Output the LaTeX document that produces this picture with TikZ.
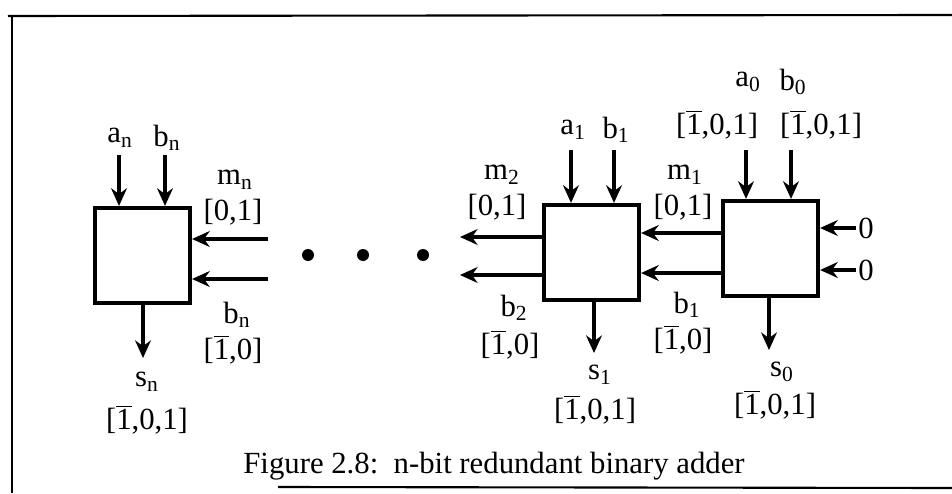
\documentclass[tikz,border=0pt]{standalone}
\usepackage{fontspec}
\setmainfont{Liberation Serif}
\usetikzlibrary{arrows.meta}
\newcommand{\onebar}{$\overline{\mbox{1}}$}
\tikzset{
  adder/.style={draw,line width=2.4pt,minimum width=1.9cm,minimum height=1.9cm,inner sep=0pt},
  sig/.style={line width=1.8pt,-{Stealth[length=10pt,width=9pt]}},
  lbl/.style={inner sep=1pt,font=\fontsize{17.5}{20}\selectfont},
  frame/.style={line width=1.2pt}
}
\begin{document}
\begin{tikzpicture}[x=0.02cm,y=-0.02cm]
  \useasboundingbox (0,0) rectangle (952,493);

  \draw[frame] (8,16) -- (952,15);
  \draw[frame] (12,16) -- (12,493);
  \draw[frame] (278,487) -- (952,488);

  \node[adder] (boxn) at (142.5,255.5) {};
  \node[adder] (box1) at (591.5,252.5) {};
  \node[adder] (box0) at (770.5,248.5) {};

  \node[lbl] (an) at (120,138) {a\textsubscript{n}};
  \node[lbl] (bn) at (167,138) {b\textsubscript{n}};
  \node[lbl] (mn) at (235,180) {m\textsubscript{n}};
  \node[lbl] (mnr) at (233,212) {[0,1]};
  \node[lbl] (cn) at (237,315) {b\textsubscript{n}};
  \node[lbl] (cnr) at (233,350) {[\onebar,0]};
  \node[lbl] (sn) at (147,382) {s\textsubscript{n}};
  \node[lbl] (snr) at (147,420) {[\onebar,0,1]};

  \coordinate (anin) at (119,155);
  \coordinate (bnin) at (165,155);
  \coordinate (mnin) at (268,239);
  \coordinate (cnin) at (268,279);
  \draw[sig] (anin) -- (anin |- boxn.north);
  \draw[sig] (bnin) -- (bnin |- boxn.north);
  \draw[sig] (mnin) -- (mnin -| boxn.east);
  \draw[sig] (cnin) -- (cnin -| boxn.east);
  \draw[sig] (boxn.south -| 143,0) -- (143,358);

  \foreach \x in {308,363,423}
    \fill (\x,255) circle (6);

  \node[lbl] (a1) at (573,130) {a\textsubscript{1}};
  \node[lbl] (b1) at (616,130) {b\textsubscript{1}};
  \node[lbl] (m2) at (502,175) {m\textsubscript{2}};
  \node[lbl] (m2r) at (497,207) {[0,1]};
  \node[lbl] (c2) at (514,308) {b\textsubscript{2}};
  \node[lbl] (c2r) at (510,345) {[\onebar,0]};
  \node[lbl] (s1) at (600,375) {s\textsubscript{1}};
  \node[lbl] (s1r) at (595,410) {[\onebar,0,1]};

  \coordinate (a1in) at (571,150);
  \coordinate (b1in) at (614,150);
  \coordinate (m2out) at (460,237);
  \coordinate (c2out) at (460,275);
  \draw[sig] (a1in) -- (a1in |- box1.north);
  \draw[sig] (b1in) -- (b1in |- box1.north);
  \draw[sig] (box1.west |- m2out) -- (m2out);
  \draw[sig] (box1.west |- c2out) -- (c2out);
  \draw[sig] (box1.south -| 594,0) -- (594,353);

  \node[lbl] (a0) at (748,82) {a\textsubscript{0}};
  \node[lbl] (b0) at (793,82) {b\textsubscript{0}};
  \node[lbl] (a0r) at (717,125) {[\onebar,0,1]};
  \node[lbl] (b0r) at (821,125) {[\onebar,0,1]};
  \node[lbl] (m1) at (685,175) {m\textsubscript{1}};
  \node[lbl] (m1r) at (683,207) {[0,1]};
  \node[lbl] (c1) at (687,305) {b\textsubscript{1}};
  \node[lbl] (c1r) at (683,340) {[\onebar,0]};
  \node[lbl] (s0) at (782,372) {s\textsubscript{0}};
  \node[lbl] (s0r) at (775,405) {[\onebar,0,1]};
  \node[lbl] (z1) at (866,228) {0};
  \node[lbl] (z2) at (866,270) {0};

  \coordinate (a0in) at (746,150);
  \coordinate (b0in) at (791,150);
  \draw[sig] (a0in) -- (a0in |- box0.north);
  \draw[sig] (b0in) -- (b0in |- box0.north);
  \draw[sig] (box0.west |- 0,233) -- (box1.east |- 0,233);
  \draw[sig] (box0.west |- 0,273) -- (box1.east |- 0,273);
  \draw[sig] (z1.west) -- (z1.west -| box0.east);
  \draw[sig] (z2.west) -- (z2.west -| box0.east);
  \draw[sig] (box0.south -| 769,0) -- (769,350);

  \node[lbl] (cap) at (494,466) {Figure 2.8:\ \ n-bit redundant binary adder};
\end{tikzpicture}
\end{document}
